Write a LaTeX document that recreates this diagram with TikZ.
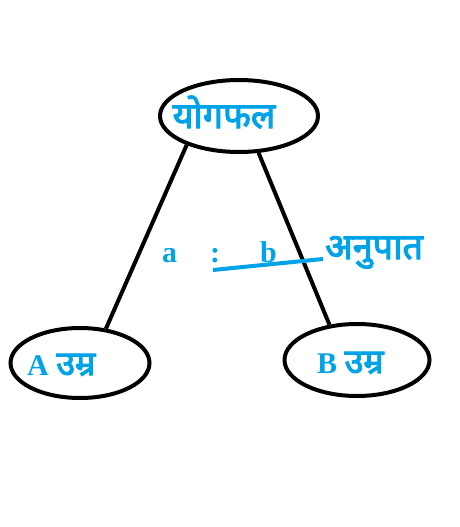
\documentclass[tikz,border=0pt]{standalone}
\usepackage{fontspec}
\setmainfont{Liberation Serif}
\newfontfamily\devfont[Script=Devanagari, AutoFakeBold=3]{Noto Sans}
\usetikzlibrary{shapes.geometric}
\definecolor{paintblue}{RGB}{0,162,232}

\tikzset{
  bubble/.style={ellipse, draw, line width=4pt},
  tag/.style={text=paintblue, inner sep=0pt, font=\fontsize{30}{34}\selectfont\bfseries},
  devtag/.style={text=paintblue, inner sep=0pt, font=\fontsize{36}{40}\selectfont\devfont\bfseries},
  link/.style={line width=4pt},
  ratioline/.style={line width=4pt, paintblue},
}
\newcommand{\umr}{{\fontsize{34}{38}\selectfont\devfont\bfseries उम्र}}

\begin{document}
\begin{tikzpicture}[x=1pt, y=-1pt]
  \useasboundingbox (0,0) rectangle (459,527);
  % the three ellipses
  \node[bubble, minimum width=158pt, minimum height=72pt] (sum)  at (239,116) {};
  \node[bubble, minimum width=139pt, minimum height=70pt] (ageA) at (80,363)  {};
  \node[bubble, minimum width=145pt, minimum height=72pt] (ageB) at (357,360) {};
  % texts
  \node[devtag, anchor=base] (sumtxt) at (224,128) {योगफल};
  \node[tag, anchor=base west] (atxt) at (27,375)  {A \umr};
  \node[tag, anchor=base west] (btxt) at (317,373) {B \umr};
  \node[tag, anchor=base west] (a)     at (162,262) {a};
  \node[tag, anchor=base west] (colon) at (210,262) {:};
  \node[tag, anchor=base west] (b)     at (260,262) {b};
  \node[devtag, anchor=base west] (ratio) at (325,259) {अनुपात};
  % connectors
  \draw[link] (sum.209) -- (ageA.53);
  \draw[link] (sum.298) -- (ageB.128);
  \coordinate (r1) at (213,270);
  \coordinate (r2) at (323,259);
  \draw[ratioline] (r1) -- (r2);
\end{tikzpicture}
\end{document}
